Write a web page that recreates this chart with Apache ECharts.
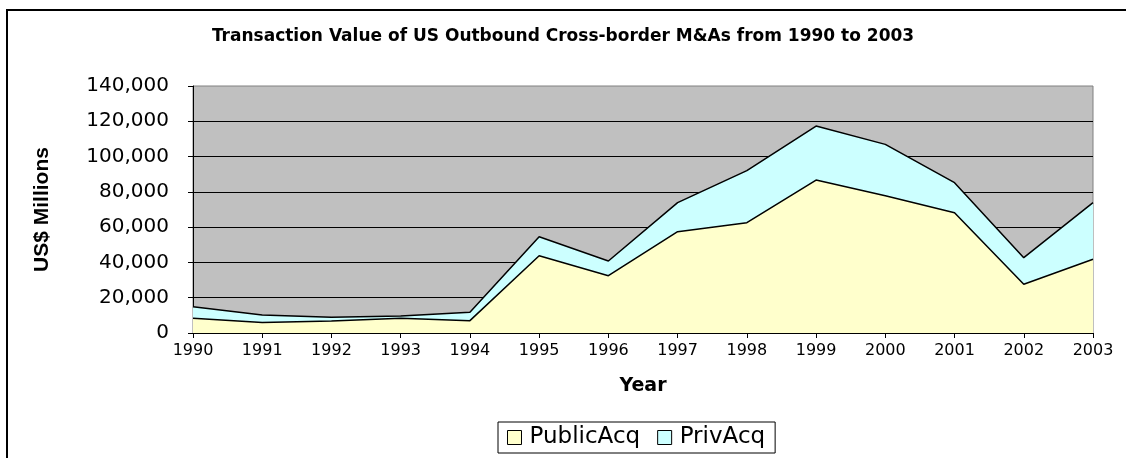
<!DOCTYPE html>
<html>
<head>
<meta charset="utf-8">
<script src="https://cdn.jsdelivr.net/npm/echarts@6/dist/echarts.min.js"></script>
<style>
html,body{margin:0;padding:0;background:#fff;}
#chart{width:1126px;height:458px;}
</style>
</head>
<body>
<div id="chart"></div>
<script>
const years = ['1990','1991','1992','1993','1994','1995','1996','1997','1998','1999','2000','2001','2002','2003'];
const publicAcq = [8300, 6000, 6800, 8300, 7000, 43800, 32500, 57400, 62500, 86700, 77800, 68200, 27600, 41800];
const privAcq = [6600, 4200, 2100, 1300, 4700, 10800, 8300, 16500, 29500, 30600, 29100, 17000, 15100, 32100];
const titleText = 'Transaction Value of US Outbound Cross-border M&As from 1990 to 2003';

const chart = echarts.init(document.getElementById('chart'), null, {renderer: 'canvas'});
chart.setOption({
  animation: false,
  backgroundColor: '#ffffff',
  graphic: [{
    type: 'rect',
    shape: {x: 7, y: 10, width: 1200, height: 600},
    style: {fill: 'none', stroke: '#000', lineWidth: 2},
    z: 100
  }],
  title: {
    text: titleText,
    left: 'center',
    top: 23,
    textStyle: {fontFamily: 'DejaVu Sans', fontWeight: 'bold', fontSize: 17, color: '#000'}
  },
  legend: {
    data: ['PublicAcq', 'PrivAcq'],
    left: 498,
    top: 422,
    padding: [4, 10, 4, 9],
    itemGap: 17,
    itemWidth: 14,
    itemHeight: 14,
    icon: 'rect',
    borderColor: '#000',
    borderWidth: 1,
    itemStyle: {borderColor: '#000', borderWidth: 1},
    textStyle: {fontFamily: 'DejaVu Sans', fontSize: 23, color: '#000', padding: [0, 0, 0, 3]}
  },
  grid: {
    left: 193, right: 33, top: 86, bottom: 125,
    show: true,
    backgroundColor: '#C0C0C0',
    borderColor: '#808080',
    borderWidth: 1
  },
  xAxis: {
    type: 'category',
    data: years,
    boundaryGap: false,
    name: 'Year',
    nameLocation: 'middle',
    nameGap: 44,
    nameTextStyle: {fontFamily: 'DejaVu Sans', fontWeight: 'bold', fontSize: 19, color: '#000'},
    axisLine: {lineStyle: {color: '#000', width: 1}},
    axisTick: {show: true, inside: false, length: 5, alignWithLabel: true, lineStyle: {color: '#000'}},
    axisLabel: {fontFamily: 'DejaVu Sans', fontSize: 16, color: '#000', margin: 10},
    splitLine: {show: false}
  },
  yAxis: {
    type: 'value',
    min: 0, max: 140000, interval: 20000,
    name: 'US$ Millions',
    nameLocation: 'middle',
    nameGap: 140,
    nameRotate: 90,
    nameTextStyle: {fontFamily: 'Liberation Sans', fontWeight: 'bold', fontSize: 21, color: '#000'},
    axisLine: {show: true, lineStyle: {color: '#000', width: 1}},
    axisTick: {show: true, inside: false, length: 5, lineStyle: {color: '#000'}},
    axisLabel: {
      fontFamily: 'DejaVu Sans', fontSize: 20, color: '#000', margin: 24,
      formatter: v => v.toLocaleString('en-US')
    },
    splitLine: {show: true, showMaxLine: false, showMinLine: false, lineStyle: {color: '#000', width: 1}}
  },
  series: [{
    name: 'PublicAcq',
    type: 'line',
    stack: 'total',
    data: publicAcq,
    symbol: 'none',
    itemStyle: {color: '#FFFFCC'},
    lineStyle: {color: '#000', width: 1.5},
    areaStyle: {color: '#FFFFCC', opacity: 1}
  }, {
    name: 'PrivAcq',
    type: 'line',
    stack: 'total',
    data: privAcq,
    symbol: 'none',
    itemStyle: {color: '#CCFFFF'},
    lineStyle: {color: '#000', width: 1.5},
    areaStyle: {color: '#CCFFFF', opacity: 1}
  }]
});
</script>
</body>
</html>
